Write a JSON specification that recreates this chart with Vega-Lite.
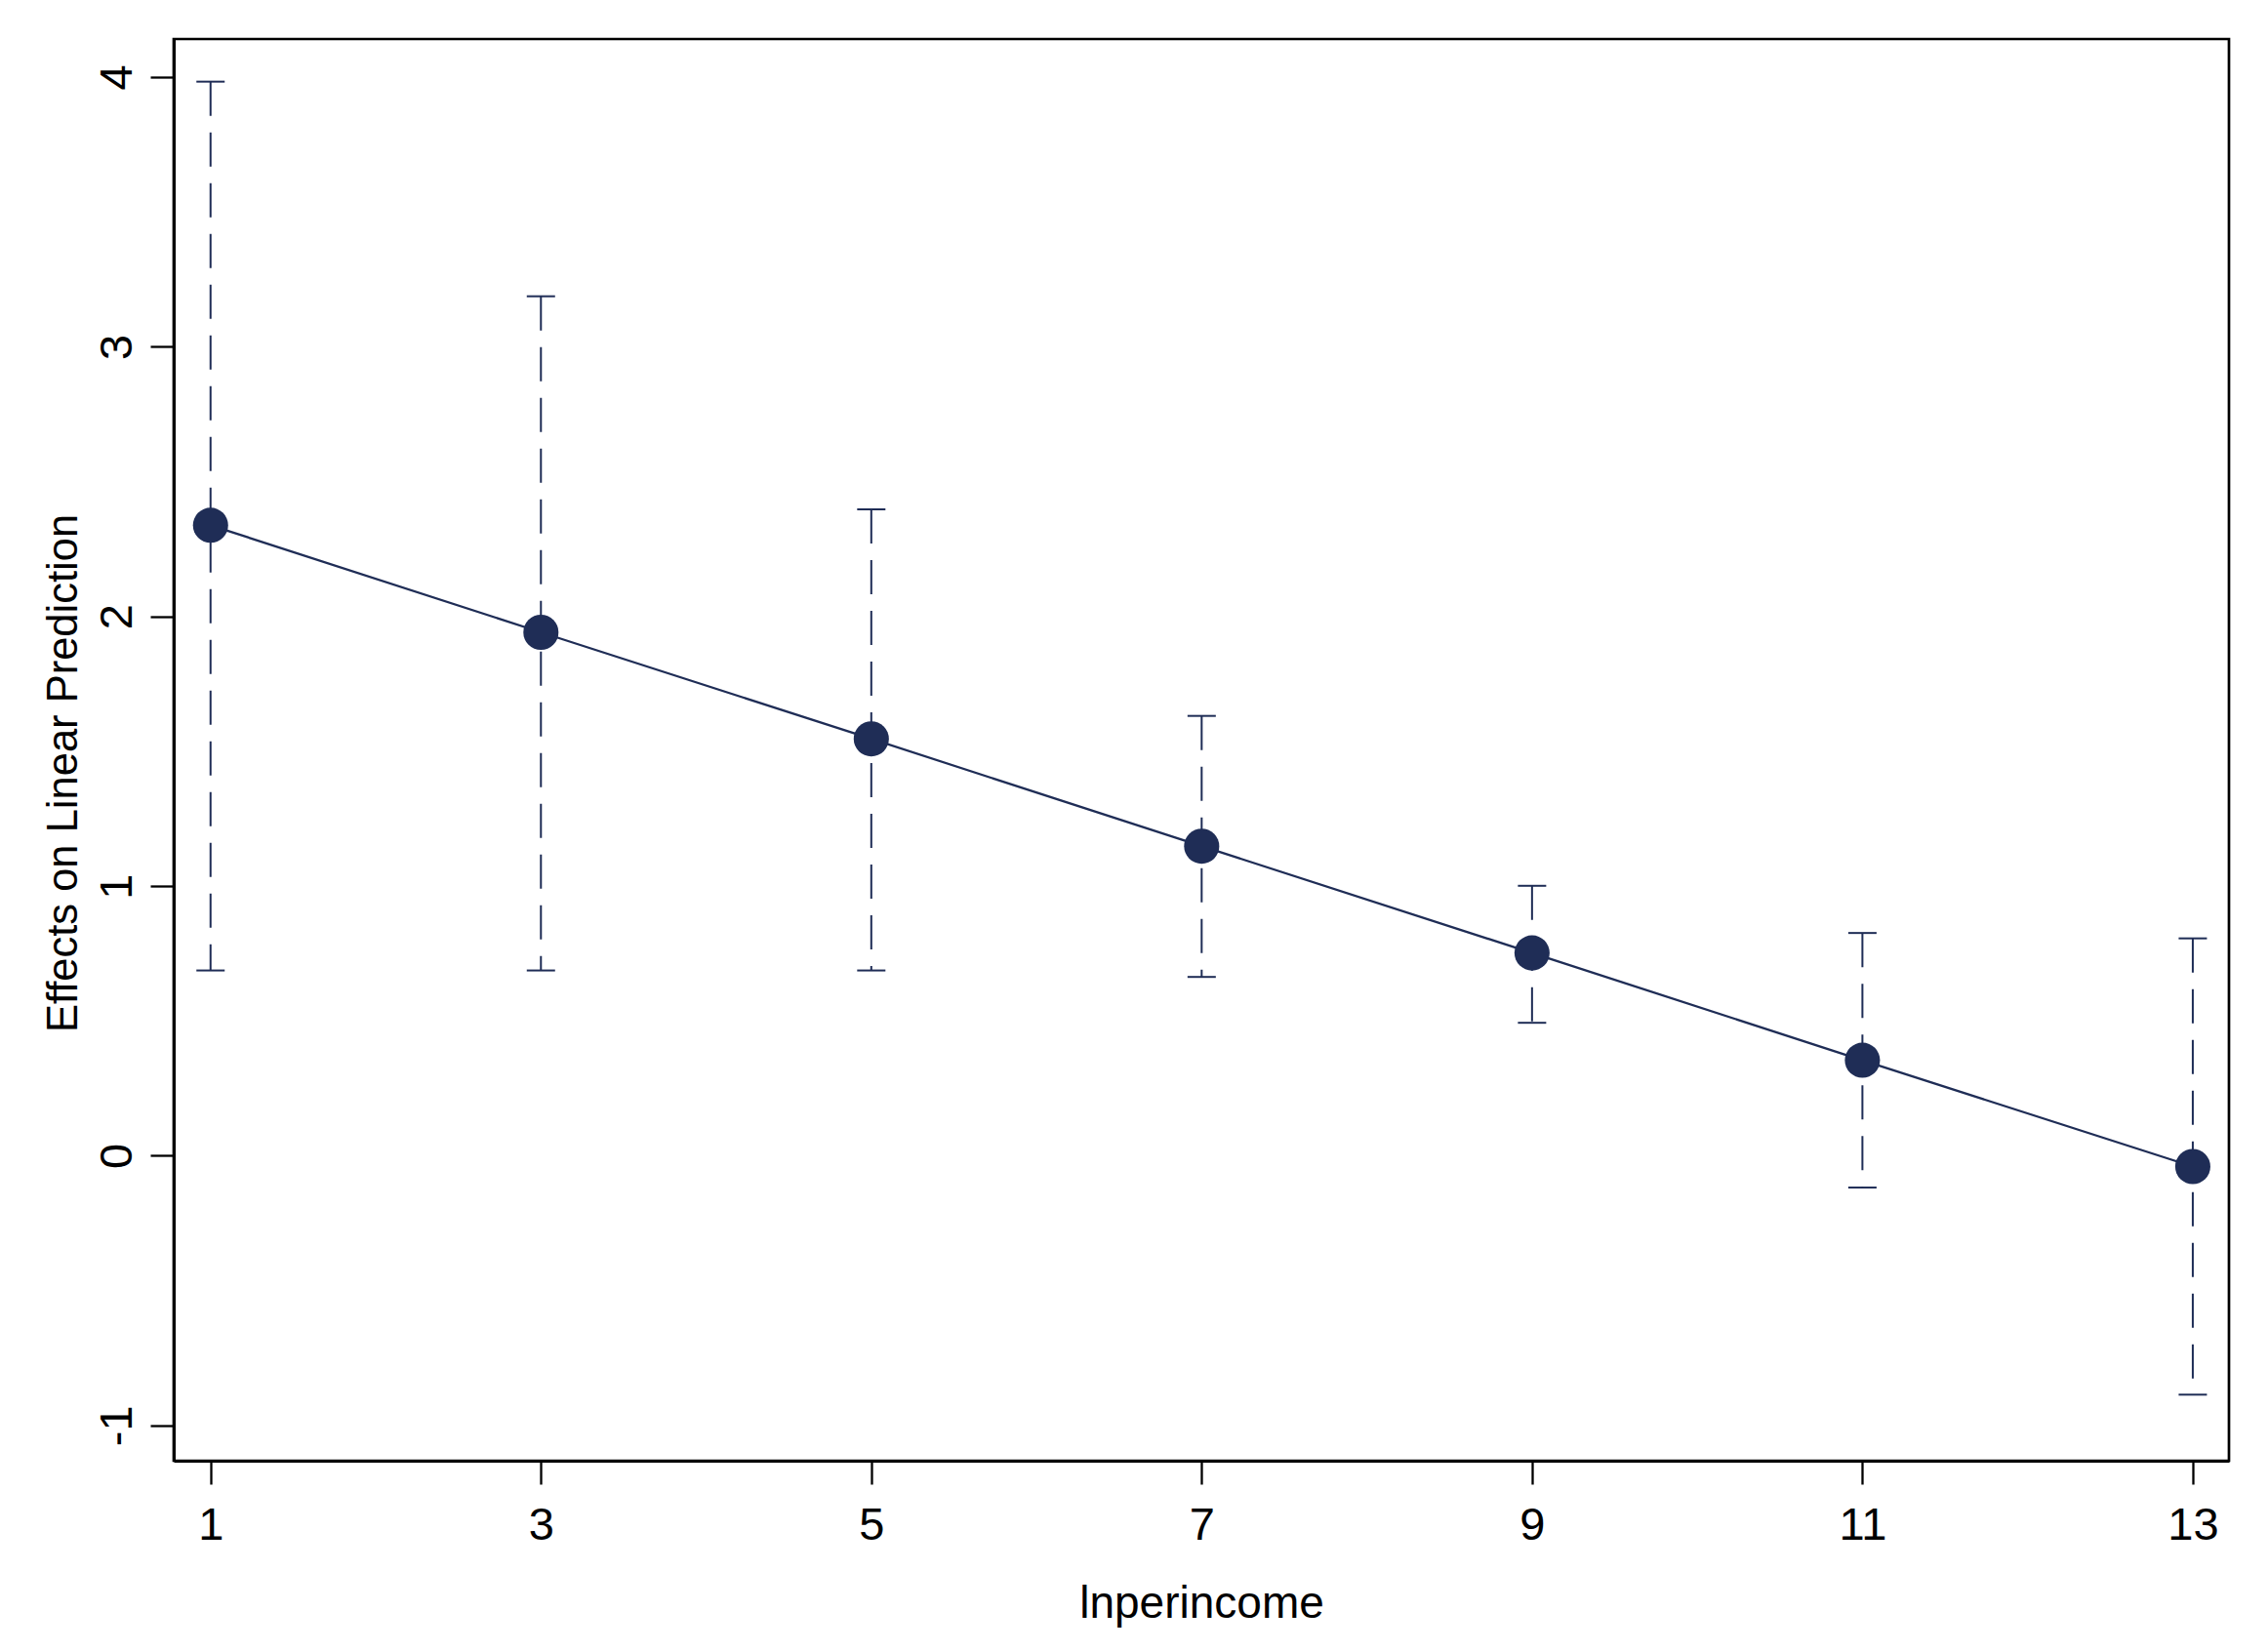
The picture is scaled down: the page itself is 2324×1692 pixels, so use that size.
{
  "$schema": "https://vega.github.io/schema/vega-lite/v6.json",
  "width": 2106,
  "height": 1457,
  "autosize": {"type": "none"},
  "padding": {"left": 178, "top": 40, "right": 40, "bottom": 195},
  "background": "white",
  "data": {
    "values": [
      {"lnperincome": 1, "effect": 2.338, "lower": 0.687, "upper": 3.983},
      {"lnperincome": 3, "effect": 1.941, "lower": 0.687, "upper": 3.187},
      {"lnperincome": 5, "effect": 1.546, "lower": 0.687, "upper": 2.397},
      {"lnperincome": 7, "effect": 1.148, "lower": 0.663, "upper": 1.631},
      {"lnperincome": 9, "effect": 0.752, "lower": 0.493, "upper": 1.001},
      {"lnperincome": 11, "effect": 0.354, "lower": -0.118, "upper": 0.826},
      {"lnperincome": 13, "effect": -0.040, "lower": -0.886, "upper": 0.806}
    ]
  },
  "encoding": {
    "x": {
      "field": "lnperincome",
      "type": "quantitative",
      "scale": {"domain": [0.777, 13.219], "nice": false, "zero": false},
      "axis": {
        "title": "lnperincome",
        "values": [1, 3, 5, 7, 9, 11, 13],
        "labelExpr": "datum.value + ''",
        "labelPadding": 19,
        "titleY": 160,
        "titleFontSize": 46,
        "titleBaseline": "alphabetic"
      }
    }
  },
  "layer": [
    {
      "mark": {"type": "rule", "color": "#1f2d56", "strokeWidth": 2, "strokeDash": [35, 17]},
      "encoding": {
        "y": {
          "field": "upper",
          "type": "quantitative",
          "scale": {"domain": [-1.131, 4.141], "nice": false, "zero": false},
          "axis": {
            "title": "Effects on Linear Prediction",
            "values": [-1, 0, 1, 2, 3, 4],
            "labelExpr": "datum.value + ''",
            "labelAngle": -90,
            "labelAlign": "center",
            "labelBaseline": "alphabetic",
            "labelPadding": 20,
            "titleX": -100,
            "titleY": 752,
            "titleFontSize": 43.5,
            "titleBaseline": "alphabetic"
          }
        },
        "y2": {"field": "lower"}
      }
    },
    {
      "mark": {"type": "tick", "orient": "horizontal", "color": "#1f2d56", "size": 29, "thickness": 2, "opacity": 1},
      "encoding": {"y": {"field": "upper", "type": "quantitative"}}
    },
    {
      "mark": {"type": "tick", "orient": "horizontal", "color": "#1f2d56", "size": 29, "thickness": 2, "opacity": 1},
      "encoding": {"y": {"field": "lower", "type": "quantitative"}}
    },
    {
      "mark": {"type": "line", "color": "#1f2d56", "strokeWidth": 2.3},
      "encoding": {"y": {"field": "effect", "type": "quantitative"}}
    },
    {
      "mark": {"type": "point", "filled": true, "color": "#1f2d56", "size": 1300, "opacity": 1, "shape": "circle"},
      "encoding": {"y": {"field": "effect", "type": "quantitative"}}
    }
  ],
  "config": {
    "view": {"stroke": "black", "strokeWidth": 2.7, "fill": "white"},
    "axis": {
      "grid": false,
      "domainColor": "black",
      "domainWidth": 3,
      "tickColor": "black",
      "tickWidth": 2.3,
      "tickSize": 24,
      "labelFont": "Liberation Sans",
      "labelFontSize": 47,
      "labelColor": "black",
      "titleFont": "Liberation Sans",
      "titleFontSize": 45,
      "titleFontWeight": "normal",
      "titleColor": "black"
    }
  }
}
